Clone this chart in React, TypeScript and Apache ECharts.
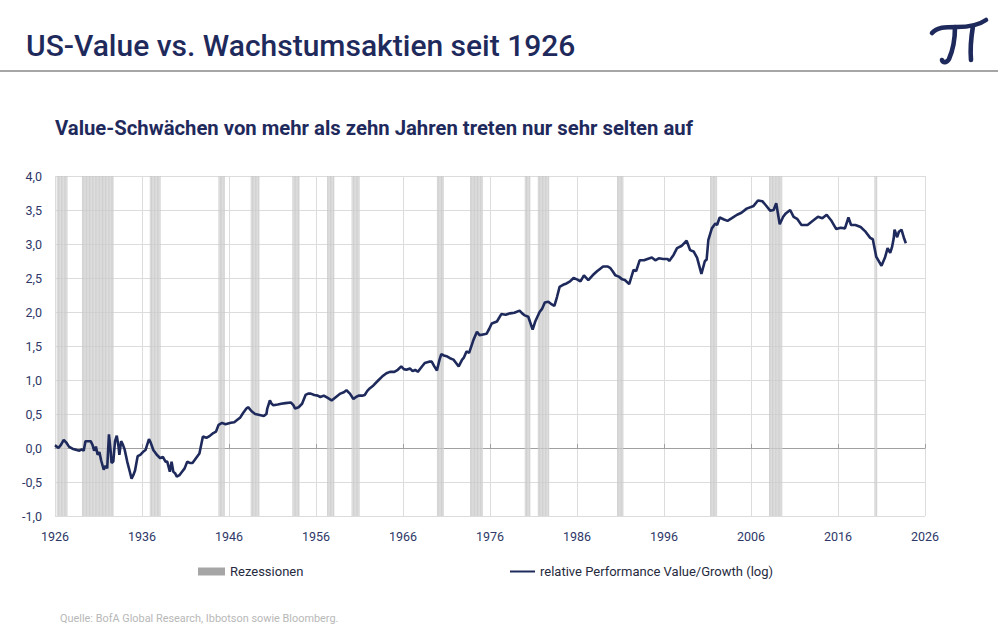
import React, { useEffect, useRef } from "react";
import * as echarts from "echarts";

const years = [
  1926.0, 1926.4, 1926.7, 1927.0, 1927.3, 1927.6, 1928.0, 1928.5, 1928.8, 1929.1, 1929.3, 1929.5, 1929.8,
  1930.1, 1930.3, 1930.5, 1930.7, 1930.9, 1931.1, 1931.3, 1931.6, 1931.8, 1932.0, 1932.2, 1932.4, 1932.5,
  1932.7, 1932.9, 1933.1, 1933.3, 1933.4, 1933.6, 1933.8, 1934.0, 1934.3, 1934.6, 1934.8, 1935.0, 1935.2,
  1935.5, 1935.8, 1936.1, 1936.4, 1936.8, 1937.0, 1937.3, 1937.7, 1938.1, 1938.4, 1938.7, 1938.9, 1939.2,
  1939.4, 1939.6, 1939.8, 1940.0, 1940.3, 1940.6, 1940.9, 1941.2, 1941.5, 1941.8, 1942.2, 1942.6, 1943.0,
  1943.4, 1943.8, 1944.2, 1944.5, 1944.8, 1945.2, 1945.6, 1946.2, 1946.6, 1947.0, 1947.3, 1947.6, 1948.0,
  1948.2, 1948.6, 1949.0, 1949.4, 1950.0, 1950.3, 1950.4, 1950.7, 1950.9, 1951.1, 1951.6, 1952.0, 1952.5,
  1953.1, 1953.4, 1953.6, 1954.0, 1954.4, 1954.8, 1955.1, 1955.4, 1955.8, 1956.2, 1956.5, 1956.9, 1957.3,
  1957.8, 1958.3, 1958.8, 1959.2, 1959.5, 1959.9, 1960.3, 1960.6, 1960.9, 1961.3, 1961.6, 1961.9, 1962.2,
  1962.6, 1963.2, 1963.6, 1964.1, 1964.5, 1965.0, 1965.4, 1965.8, 1966.1, 1966.4, 1966.8, 1967.1, 1967.4,
  1967.7, 1968.0, 1968.5, 1969.0, 1969.3, 1969.6, 1969.9, 1970.2, 1970.4, 1970.7, 1971.0, 1971.4, 1971.8,
  1972.1, 1972.4, 1972.8, 1973.0, 1973.3, 1973.6, 1974.1, 1974.5, 1974.8, 1975.2, 1975.6, 1975.9, 1976.2,
  1976.8, 1977.3, 1977.8, 1978.3, 1978.8, 1979.4, 1979.7, 1980.0, 1980.4, 1980.9, 1981.2, 1981.7, 1982.0,
  1982.3, 1982.7, 1983.0, 1983.4, 1983.7, 1984.0, 1984.4, 1984.8, 1985.2, 1985.6, 1986.0, 1986.4, 1986.8,
  1987.3, 1987.8, 1988.3, 1988.6, 1989.0, 1989.5, 1989.8, 1990.1, 1990.4, 1990.8, 1991.2, 1991.5, 1992.0,
  1992.5, 1992.8, 1993.2, 1993.7, 1994.1, 1994.6, 1995.0, 1995.4, 1995.9, 1996.4, 1996.6, 1997.1, 1997.5,
  1998.0, 1998.6, 1999.0, 1999.4, 1999.8, 2000.3, 2000.7, 2000.9, 2001.1, 2001.5, 2001.9, 2002.1, 2002.4,
  2002.9, 2003.3, 2003.8, 2004.4, 2004.9, 2005.5, 2006.3, 2006.8, 2007.3, 2007.7, 2008.2, 2008.6, 2008.9,
  2009.3, 2009.7, 2010.0, 2010.5, 2010.9, 2011.3, 2011.8, 2012.5, 2013.0, 2013.7, 2014.2, 2014.7, 2015.2,
  2015.8, 2016.3, 2016.8, 2017.2, 2017.5, 2018.0, 2018.6, 2019.1, 2019.7, 2020.0, 2020.4, 2021.0, 2021.4,
  2021.7, 2022.0, 2022.2, 2022.4, 2022.5, 2022.8, 2023.0, 2023.3, 2023.6, 2023.8,
];

const values = [
  0.04, 0.0, 0.05, 0.12, 0.08, 0.02, -0.01, -0.03, -0.04, -0.02, -0.04, 0.1, 0.1,
  0.1, 0.05, -0.04, 0.02, -0.1, -0.06, -0.18, -0.32, -0.26, -0.3, 0.2, -0.05, -0.22,
  -0.2, 0.1, 0.18, 0.02, -0.1, 0.1, 0.05, -0.02, -0.2, -0.35, -0.45, -0.4, -0.33,
  -0.12, -0.1, -0.06, -0.03, 0.13, 0.08, -0.03, -0.1, -0.15, -0.13, -0.2, -0.2, -0.35,
  -0.2, -0.35, -0.37, -0.42, -0.4, -0.35, -0.3, -0.2, -0.22, -0.22, -0.15, -0.08, 0.17,
  0.15, 0.18, 0.22, 0.24, 0.34, 0.37, 0.35, 0.37, 0.38, 0.42, 0.45, 0.51, 0.58,
  0.6, 0.54, 0.5, 0.49, 0.47, 0.5, 0.58, 0.7, 0.65, 0.63, 0.64, 0.65, 0.66,
  0.67, 0.63, 0.58, 0.6, 0.65, 0.78, 0.8, 0.8, 0.78, 0.77, 0.75, 0.77, 0.74,
  0.7, 0.75, 0.8, 0.82, 0.85, 0.8, 0.72, 0.75, 0.77, 0.77, 0.78, 0.84, 0.88,
  0.92, 1.0, 1.05, 1.1, 1.12, 1.12, 1.15, 1.2, 1.16, 1.15, 1.17, 1.13, 1.15,
  1.12, 1.17, 1.25, 1.27, 1.27, 1.2, 1.14, 1.3, 1.38, 1.36, 1.35, 1.32, 1.3,
  1.25, 1.2, 1.3, 1.33, 1.42, 1.4, 1.59, 1.71, 1.66, 1.67, 1.68, 1.75, 1.83,
  1.86, 1.97, 1.96, 1.98, 1.99, 2.02, 1.98, 1.95, 1.93, 1.74, 1.86, 2.0, 2.05,
  2.14, 2.15, 2.12, 2.09, 2.22, 2.37, 2.4, 2.42, 2.45, 2.5, 2.48, 2.45, 2.54,
  2.47, 2.54, 2.6, 2.63, 2.67, 2.67, 2.65, 2.6, 2.54, 2.52, 2.48, 2.47, 2.41,
  2.62, 2.6, 2.76, 2.76, 2.78, 2.8, 2.76, 2.79, 2.78, 2.78, 2.75, 2.84, 2.94,
  2.97, 3.05, 2.91, 2.89, 2.8, 2.56, 2.75, 2.77, 3.06, 3.23, 3.3, 3.28, 3.39,
  3.36, 3.34, 3.38, 3.43, 3.46, 3.52, 3.56, 3.64, 3.63, 3.57, 3.49, 3.5, 3.6,
  3.29, 3.4, 3.45, 3.5, 3.4, 3.37, 3.28, 3.28, 3.33, 3.4, 3.38, 3.43, 3.35,
  3.22, 3.24, 3.23, 3.39, 3.28, 3.28, 3.25, 3.19, 3.09, 3.07, 2.81, 2.68, 2.8,
  2.94, 2.87, 2.95, 3.08, 3.21, 3.1, 3.18, 3.21, 3.08, 3.01,
];

const recessionStart = [1926.2, 1929.1, 1936.9, 1944.8, 1948.5, 1953.3, 1957.3, 1960.1, 1969.9, 1973.7, 1980.0, 1981.5, 1990.6, 2001.3, 2008.1, 2020.2];
const recessionEnd = [1927.4, 1932.7, 1938.1, 1945.5, 1949.5, 1954.1, 1958.1, 1961.0, 1970.7, 1975.2, 1980.6, 1982.8, 1991.3, 2002.1, 2009.6, 2020.5];

const TITLE = "US-Value vs. Wachstumsaktien seit 1926";
const SUBTITLE = "Value-Schwächen von mehr als zehn Jahren treten nur sehr selten auf";
const SOURCE = "Quelle: BofA Global Research, Ibbotson sowie Bloomberg.";
const SERIES_REC = "Rezessionen";
const SERIES_LINE = "relative Performance Value/Growth (log)";

const X_MIN = 1926;
const X_MAX = 2026;
const Y_MIN = -1;
const Y_MAX = 4;

const NAVY = "#1f2a5c";
const LABEL = "#2e3768";

const LOGO_D =
  "M2 15 C 7 9, 15 9, 27 9 C 39 9, 49 7, 56 2 M 25 9 C 25 20, 23 32, 19 41 C 17 45, 13 45, 12 42 M 43 8 C 41 20, 40 31, 41 42";

let logoRegistered = false;
function ensureLogo() {
  if (logoRegistered) return;
  echarts.graphic.registerShape("logo", (echarts.graphic as any).extendPath(LOGO_D, {}));
  logoRegistered = true;
}

export default function App() {
  const ref = useRef<HTMLDivElement>(null);
  useEffect(() => {
    if (!ref.current) return;
    ensureLogo();
    const chart = echarts.init(ref.current, null, { renderer: "svg" });
    const option: any = {
      animation: false,
      backgroundColor: "#ffffff",
      textStyle: { fontFamily: "Roboto" },
      title: [
        {
          text: TITLE,
          left: 26,
          top: 30,
          padding: 0,
          textStyle: { fontSize: 30, fontWeight: 500, color: NAVY, fontFamily: "Roboto" },
        },
        {
          text: SUBTITLE,
          left: 55,
          top: 118,
          padding: 0,
          textStyle: { fontSize: 20.3, fontWeight: "bold", color: NAVY, fontFamily: "Roboto" },
        },
        {
          text: SOURCE,
          left: 60,
          top: 613,
          padding: 0,
          textStyle: { fontSize: 10.9, fontWeight: "normal", color: "#b8b8b8", fontFamily: "Roboto" },
        },
      ],
      graphic: [
        { type: "rect", shape: { x: 0, y: 70, width: 998, height: 2 }, style: { fill: "#a6a6a6" } },
        {
          type: "logo",
          x: 930,
          y: 18,
          scaleX: 1,
          scaleY: 1,
          style: { fill: null, stroke: NAVY, lineWidth: 4.6, lineCap: "round", lineJoin: "round" },
        },
      ],
      legend: [
        {
          data: [{ name: SERIES_REC, icon: "rect", itemStyle: { color: "#a6a6a6" } }],
          left: 198,
          top: 565,
          padding: 0,
          itemWidth: 27,
          itemHeight: 8,
          selectedMode: false,
          textStyle: { fontSize: 13, color: "#262a40", fontFamily: "Roboto" },
        },
        {
          data: [{ name: SERIES_LINE, icon: "rect", itemStyle: { color: NAVY } }],
          left: 510,
          top: 565,
          padding: 0,
          itemWidth: 25,
          itemHeight: 2,
          selectedMode: false,
          textStyle: { fontSize: 13, color: "#262a40", fontFamily: "Roboto" },
        },
      ],
      grid: { left: 55, right: 73, top: 176, bottom: 128, containLabel: false },
      xAxis: [
        {
          type: "value",
          min: X_MIN,
          max: X_MAX,
          interval: 10,
          axisLine: { show: false, onZero: false },
          axisTick: { show: false },
          axisLabel: { color: LABEL, fontSize: 12.5, margin: 14, formatter: (v: number) => String(v) },
          splitLine: { show: true, lineStyle: { color: "#dcdcdc", width: 1 } },
        },
        {
          type: "value",
          min: X_MIN,
          max: X_MAX,
          interval: 10,
          position: "bottom",
          axisLine: { show: true, onZero: true, lineStyle: { color: "#a0a0a0", width: 1 } },
          axisTick: { show: true, inside: true, length: 4, lineStyle: { color: "#a0a0a0" } },
          axisLabel: { show: false },
          splitLine: { show: false },
        },
      ],
      yAxis: {
        type: "value",
        min: Y_MIN,
        max: Y_MAX,
        interval: 0.5,
        axisLine: { show: false },
        axisTick: { show: false },
        axisLabel: {
          color: LABEL,
          fontSize: 12.5,
          margin: 13,
          formatter: (v: number) => v.toFixed(1).replace(".", ","),
        },
        splitLine: { show: true, lineStyle: { color: "#dcdcdc", width: 1 } },
      },
      series: [
        {
          name: SERIES_REC,
          type: "custom",
          xAxisIndex: 0,
          yAxisIndex: 0,
          silent: true,
          itemStyle: { color: "#a6a6a6" },
          encode: { x: [0, 1] },
          data: recessionStart.map((s, i) => [s, recessionEnd[i]]),
          renderItem: (params: any, api: any) => {
            const s = api.value(0);
            const e = api.value(1);
            const children: any[] = [];
            const step = 1 / 12;
            let k = 0;
            for (let t = s; t < e - 1e-6; t += step, k++) {
              const t2 = Math.min(e, t + step);
              const p1 = api.coord([t, Y_MAX]);
              const p2 = api.coord([t2, Y_MIN]);
              children.push({
                type: "rect",
                shape: { x: p1[0], y: p1[1], width: Math.max(0.5, p2[0] - p1[0]), height: p2[1] - p1[1] },
                style: { fill: k % 2 === 0 ? "#c3c3c3" : "#d6d6d6" },
              });
            }
            return { type: "group", children };
          },
          z: 1,
        },
        {
          name: SERIES_LINE,
          type: "line",
          data: years.map((y, i) => [y, values[i]]),
          showSymbol: false,
          symbol: "none",
          lineStyle: { color: NAVY, width: 2.6 },
          itemStyle: { color: NAVY },
          z: 3,
        },
      ],
    };
    chart.setOption(option);
    return () => chart.dispose();
  }, []);
  return (
    <div
      ref={ref}
      style={{ position: "fixed", left: 0, top: 0, width: 998, height: 644, background: "#fff" }}
    />
  );
}
